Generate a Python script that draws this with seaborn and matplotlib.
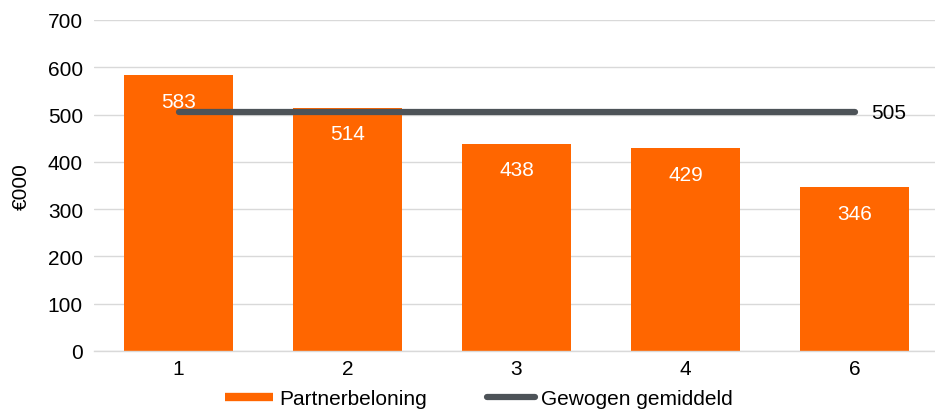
import numpy as np
import pandas as pd
import matplotlib
matplotlib.use("Agg")
import matplotlib.pyplot as plt
from matplotlib.lines import Line2D
import seaborn as sns

# data
categories = ["1", "2", "3", "4", "6"]
beloning = [583, 514, 438, 429, 346]
gemiddeld = [505, 505, 505, 505, 505]

orange = "#ff6600"
grey_line = "#4d5358"
grid_col = "#d9d9d9"

sns.set_style("white")
plt.rcParams["font.family"] = ["Liberation Sans", "DejaVu Sans"]
plt.rcParams["font.size"] = 15
plt.rcParams["text.color"] = "black"
plt.rcParams["axes.labelcolor"] = "black"
plt.rcParams["xtick.color"] = "black"
plt.rcParams["ytick.color"] = "black"

df = pd.DataFrame({"cat": categories, "val": beloning})

fig = plt.figure(figsize=(9.35, 4.1), dpi=100)
ax = fig.add_axes([94 / 935, 58 / 410, 845 / 935, 331 / 410])

sns.barplot(data=df, x="cat", y="val", color=orange, saturation=1,
            width=0.645, ax=ax, zorder=2, edgecolor="none")

x = np.arange(len(categories))
ax.plot(x, gemiddeld, color=grey_line, lw=4.5, solid_capstyle="round", zorder=3)

# bar labels
for xi, v in zip(x, beloning):
    ax.annotate(str(v), (xi, v), xytext=(0, -26), textcoords="offset pixels",
                ha="center", va="center", color="white", fontsize=15, zorder=4)
ax.annotate(str(gemiddeld[-1]), (x[-1], gemiddeld[-1]), xytext=(17, 0),
            textcoords="offset pixels", ha="left", va="center",
            color="black", fontsize=15, zorder=4)

ax.set_ylim(0, 700)
ax.set_xlim(-0.5, len(categories) - 0.5)
ax.set_yticks(range(0, 701, 100))
ax.yaxis.grid(True, color=grid_col, lw=1)
ax.set_axisbelow(True)
ax.set_xlabel("")
ax.set_ylabel("€000", fontsize=15, labelpad=12, color="black")

for s in ["top", "right", "left"]:
    ax.spines[s].set_visible(False)
ax.spines["bottom"].set_color(grid_col)
ax.spines["bottom"].set_linewidth(1)

ax.set_xticks(x)
ax.set_xticklabels(categories)
ax.set_xticks(np.arange(-0.5, len(categories), 1), minor=True)
ax.tick_params(axis="x", which="major", length=0, pad=6, labelsize=15,
               labelcolor="black")
ax.tick_params(axis="x", which="minor", length=5, color=grid_col, width=1)
ax.tick_params(axis="y", length=0, pad=8, labelsize=15, labelcolor="black")

handles = [Line2D([], [], color=orange, lw=6, solid_capstyle="butt"),
           Line2D([], [], color=grey_line, lw=4.5, solid_capstyle="round")]
fig.legend(handles, ["Partnerbeloning", "Gewogen gemiddeld"], loc="center",
           bbox_to_anchor=(479 / 935, 10 / 410), ncol=2, frameon=False,
           handlelength=2.3, handletextpad=0.3, columnspacing=2.9, fontsize=15)

fig.savefig("out.png", dpi=100)
